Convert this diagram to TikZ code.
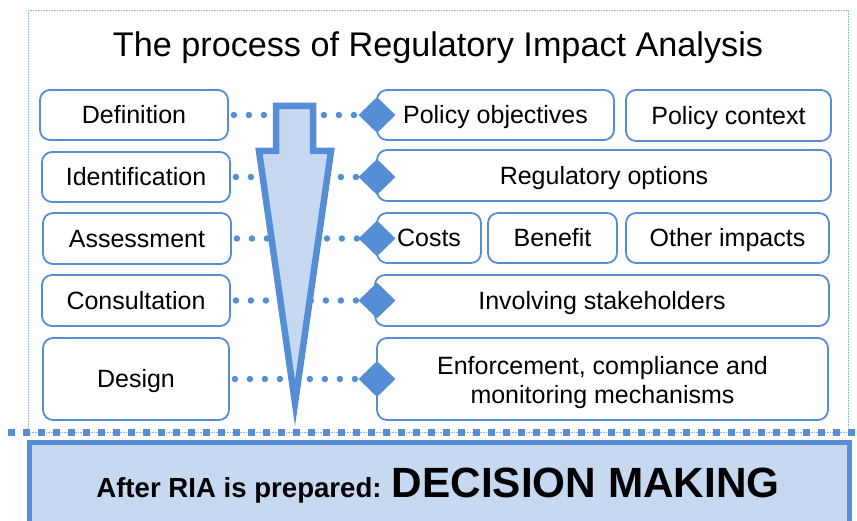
\documentclass[tikz,border=0pt]{standalone}
\usepackage{fontspec}
\setmainfont{Liberation Sans}
\usetikzlibrary{shapes.geometric}
\definecolor{riablue}{HTML}{558ED5}
\definecolor{riafill}{HTML}{C6D9F1}
\definecolor{riaframe}{HTML}{8EB4E3}
\begin{document}
\begin{tikzpicture}[x=1pt,y=-1pt,
	box/.style={draw=riablue,line width=1.8pt,rounded corners=10pt,fill=white,inner sep=0pt,font=\fontsize{25}{29}\selectfont},
	row/.style={text height=18pt,text depth=0pt},
	knob/.style={diamond,fill=riablue,inner sep=0pt,minimum width=37pt,minimum height=36pt},
	dots/.style={riablue,line width=6.5pt,line cap=round,dash pattern=on 0pt off 15pt}]
	\useasboundingbox (0,0) rectangle (857,521);
	\draw[riaframe,densely dotted,line width=0.6pt] (28,10) rectangle (848,432);
	\node[font=\fontsize{34.2}{40}\selectfont,anchor=base] (title) at (438,57) {The process of Regulatory Impact Analysis};
	\foreach \N/\T/\X/\Y/\W/\H in {def/Definition/134/115/188/50,ide/Identification/136/177/188/50,
		ass/Assessment/137/238.5/188/51,con/Consultation/136/300.5/188/51,des/Design/136/379/186/82}
	{\node[box,row,minimum width=\W,minimum height=\H] (\N) at (\X,\Y) {\T};}
	\foreach \N/\T/\X/\Y/\W/\H in {obj/Policy objectives/495.5/115/237/50,ctx/Policy context/728.5/115.5/205/51,
		opt/Regulatory options/604/175.5/454/51,cos/Costs/429/238/104/50,ben/Benefit/552.5/238/129/50,
		oth/Other impacts/727.5/238/203/50,inv/Involving stakeholders/602/300.5/454/51}
	{\node[box,row,minimum width=\W,minimum height=\H] (\N) at (\X,\Y) {\T};}
	\node[box,align=center,minimum width=451,minimum height=82] (enf) at (602.5,379)
		{\rule{0pt}{25pt}Enforcement, compliance and\\[0pt]monitoring mechanisms};
	\foreach \N [count=\Z] in {def,ide,ass,con,des}
	{
		\node[knob] (k\Z) at (377,0 |- \N) {};
		\draw[dots,shorten <=5pt] (\N.east) -- (k\Z.west);
	}
	\fill[gray!55,shift={(2.5,1)}] (276,106) -- (313,106) -- (313,151) -- (331,151)
		-- (295,403) -- (259,151) -- (276,151) -- cycle;
	\draw[riablue,fill=riafill,line width=6.5pt,line join=miter] (276,106) -- (313,106) -- (313,151)
		-- (331,151) -- (295,403) -- (259,151) -- (276,151) -- cycle;
	\draw[riablue,line width=7pt,dash pattern=on 7pt off 8pt] (8,432) -- (857,432);
	\draw[riablue,line width=5pt,fill=riafill] (29,442) rectangle (849,545);
	\node[anchor=base,font=\fontsize{27.6}{32}\selectfont\bfseries] (dm) at (438,497)
		{After RIA is prepared: {\fontsize{42.3}{48}\selectfont DECISION MAKING}};
\end{tikzpicture}
\end{document}
